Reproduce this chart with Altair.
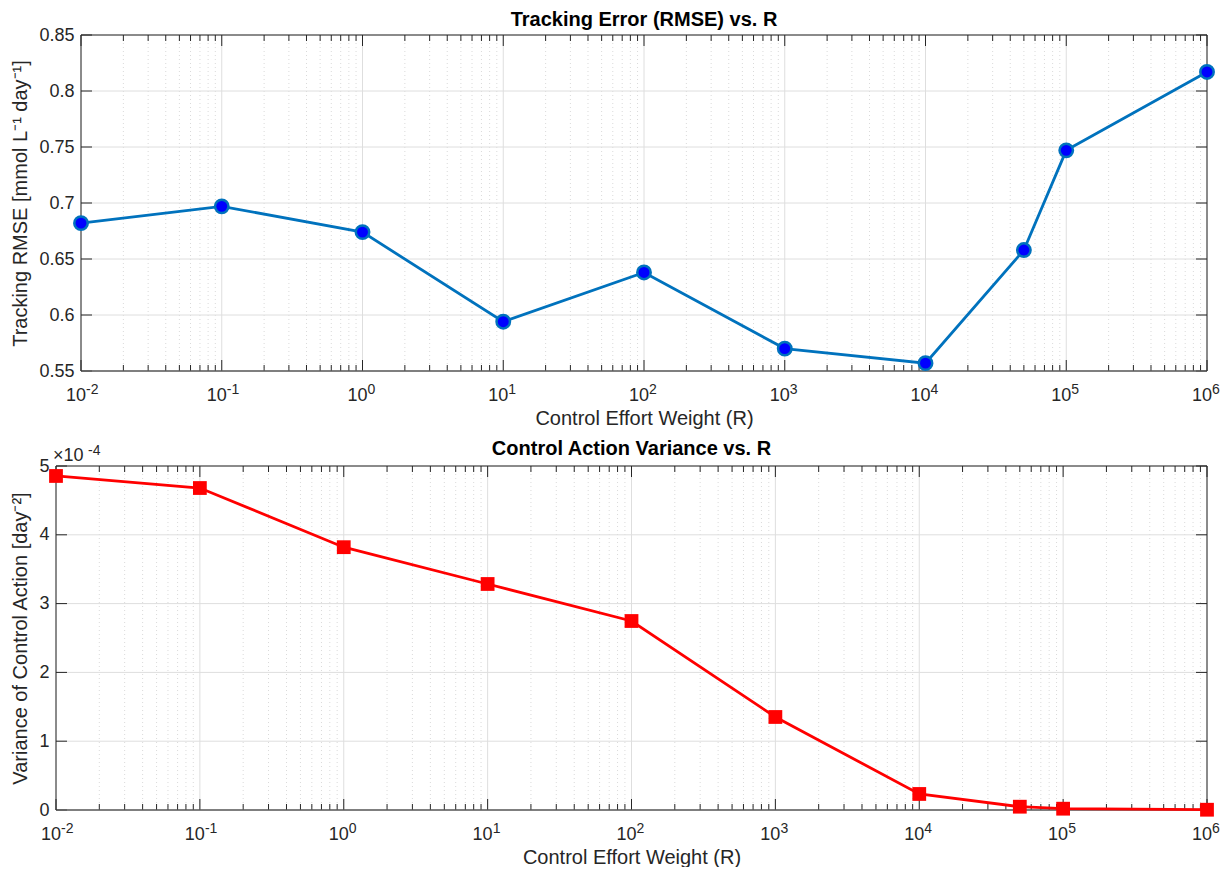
import altair as alt
import pandas as pd

# ---------------- data ----------------
R = [1e-2, 1e-1, 1e0, 1e1, 1e2, 1e3, 1e4, 5e4, 1e5, 1e6]
rmse = [0.682, 0.697, 0.674, 0.594, 0.638, 0.570, 0.557, 0.658, 0.747, 0.817]
variance = [4.855e-4, 4.68e-4, 3.82e-4, 3.285e-4, 2.747e-4, 1.352e-4, 0.233e-4, 0.048e-4, 0.019e-4, 0.004e-4]

x_major = [1e-2, 1e-1, 1e0, 1e1, 1e2, 1e3, 1e4, 1e5, 1e6]
x_major_exp = ["-2", "-1", "0", "1", "2", "3", "4", "5", "6"]
x_minor = [m * 10.0 ** k for k in range(-2, 6) for m in range(2, 10)]
y_top_ticks = [0.55, 0.6, 0.65, 0.7, 0.75, 0.8, 0.85]
y_bot_ticks = [0, 1e-4, 2e-4, 3e-4, 4e-4, 5e-4]

FONT = "Liberation Sans"
TXT = "#262626"
GRID = "#dedede"
MINOR = "#dadada"

W = 1151  # group width shared by both panels


def panel(values, ydom, yticks, ylabel_expr, ytitle, title, H, X0, kind, toff):
    xs = alt.Scale(type="log", domain=[1e-2, 1e6], nice=False, range=[X0, W])
    ys = alt.Scale(domain=ydom, nice=False, zero=False)
    xaxis = alt.Axis(values=x_major, labels=False, title="Control Effort Weight (R)",
                     grid=False, ticks=False, domain=False, titleFontSize=20,
                     titlePadding=37, titleColor=TXT, titleFontWeight="normal")
    yaxis = alt.Axis(values=yticks, labelExpr=ylabel_expr, title=ytitle, offset=-X0,
                     grid=False, ticks=False, domain=False, labelFontSize=18, titleFontSize=20,
                     labelPadding=7, titlePadding=8, labelColor=TXT, titleColor=TXT,
                     titleFontWeight="normal", labelFlush=False)

    df = pd.DataFrame({"R": R, "v": values})
    dmaj = pd.DataFrame({"R": x_major, "e": x_major_exp})
    dmin = pd.DataFrame({"R": x_minor})
    dy = pd.DataFrame({"v": yticks})
    one = alt.Data(values=[{}])
    xn = lambda: alt.X("R:Q", scale=xs, axis=xaxis)
    yn = lambda: alt.Y("v:Q", scale=ys, axis=yaxis)

    minor_grid = alt.Chart(dmin).mark_rule(color=MINOR, strokeWidth=1, strokeDash=[1, 3]).encode(
        x=xn(), y=alt.value(0), y2=alt.value(H))
    major_grid = alt.Chart(dmaj).mark_rule(color=GRID, strokeWidth=1).encode(
        x=xn(), y=alt.value(0), y2=alt.value(H))
    y_grid = alt.Chart(dy).mark_rule(color=GRID, strokeWidth=1).encode(
        y=yn(), x=alt.value(X0), x2=alt.value(W))

    tk = dict(color=TXT, strokeWidth=1)
    ticks = [
        alt.Chart(dmaj).mark_rule(**tk).encode(x=xn(), y=alt.value(H), y2=alt.value(H - 11)),
        alt.Chart(dmaj).mark_rule(**tk).encode(x=xn(), y=alt.value(0), y2=alt.value(11)),
        alt.Chart(dmin).mark_rule(**tk).encode(x=xn(), y=alt.value(H), y2=alt.value(H - 6)),
        alt.Chart(dmin).mark_rule(**tk).encode(x=xn(), y=alt.value(0), y2=alt.value(6)),
        alt.Chart(dy).mark_rule(**tk).encode(y=yn(), x=alt.value(X0), x2=alt.value(X0 + 11)),
        alt.Chart(dy).mark_rule(**tk).encode(y=yn(), x=alt.value(W), x2=alt.value(W - 11)),
    ]
    box = [
        alt.Chart(one).mark_rule(**tk).encode(x=alt.value(X0), x2=alt.value(W), y=alt.value(0)),
        alt.Chart(one).mark_rule(color="#5a5a5a", strokeWidth=1.5).encode(
            x=alt.value(X0), x2=alt.value(W), y=alt.value(H)),
        alt.Chart(one).mark_rule(**tk).encode(x=alt.value(X0), y=alt.value(0), y2=alt.value(H)),
        alt.Chart(one).mark_rule(**tk).encode(x=alt.value(W), y=alt.value(0), y2=alt.value(H)),
    ]
    # x tick labels 10^k : base "10" plus raised exponent
    bases = alt.Chart(dmaj).mark_text(text="10", align="right", baseline="alphabetic", fontSize=18,
                                      color=TXT, font=FONT, dx=5).encode(
        x=xn(), y=alt.value(H + 30))
    exps = alt.Chart(dmaj).mark_text(align="left", baseline="alphabetic", fontSize=14,
                                     color=TXT, font=FONT, dx=5).encode(
        x=xn(), y=alt.value(H + 23), text="e:N")

    base = alt.Chart(df).encode(x=xn(), y=yn())
    if kind == "circle":
        line = base.mark_line(color="#0072BD", strokeWidth=2.8)
        pts = base.mark_point(shape="circle", filled=True, fill="#0000FF", stroke="#0072BD",
                              strokeWidth=2.5, size=180, opacity=1)
    else:
        line = base.mark_line(color="#FF0000", strokeWidth=2.8)
        pts = base.mark_square(color="#FF0000", size=190, opacity=1)

    layers = [minor_grid, major_grid, y_grid] + ticks + box + [bases, exps, line, pts]
    if kind == "square":
        mult = alt.Chart(one).mark_text(
            text="×10", align="left", baseline="alphabetic", fontSize=18, color=TXT, font=FONT
        ).encode(x=alt.value(-3), y=alt.value(-5))
        mult_exp = alt.Chart(one).mark_text(
            text="-4", align="left", baseline="alphabetic", fontSize=14, color=TXT, font=FONT
        ).encode(x=alt.value(32), y=alt.value(-11))
        layers += [mult, mult_exp]

    return alt.layer(*layers).properties(
        width=W, height=H,
        title=alt.TitleParams(title, fontSize=20, fontWeight="bold", color="#000000",
                              anchor="middle", frame="group", offset=toff, dx=X0 / 2, font=FONT))


top = panel(rmse, [0.55, 0.85], y_top_ticks, "format(datum.value, '~g')",
            "Tracking RMSE [mmol L⁻¹ day⁻¹]", "Tracking Error (RMSE) vs. R", 336, 25, "circle", -4)
bottom = panel(variance, [0, 5e-4], y_bot_ticks, "format(datum.value*1e4, '~g')",
               "Variance of Control Action [day⁻²]", "Control Action Variance vs. R", 344, 0, "square", -15)

chart = alt.vconcat(top, bottom, spacing=11).properties(
    padding={"left": 2, "top": 2, "right": 0, "bottom": 0}
).configure(font=FONT).configure_view(strokeWidth=0)

chart.save("out.html", embed_options={"renderer": "svg", "actions": False})
